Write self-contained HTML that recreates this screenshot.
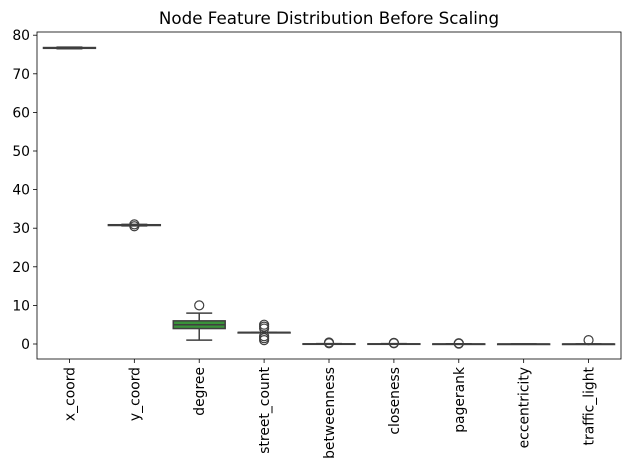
<!DOCTYPE html>
<html><head><meta charset="utf-8"><style>
body{margin:0;background:#fff;font-family:"Liberation Sans","DejaVu Sans",sans-serif}
</style></head><body>
<svg id="c" width="630" height="470" xmlns="http://www.w3.org/2000/svg" font-family="DejaVu Sans, Liberation Sans, sans-serif"></svg>
<script>
const categories=["x_coord","y_coord","degree","street_count","betweenness","closeness","pagerank","eccentricity","traffic_light"];
const colors=["#3274a1","#e1812c","#3a923a","#c03d3e","#9372b2","#845b53","#d684bd","#7f7f7f","#a9aa35"];
const q1=[76.6,30.7,4,3,0,0,0,0,0];
const med=[76.7,30.8,5,3,0,0,0,0,0];
const q3=[76.8,30.9,6,3,0.05,0.05,0.02,0,0];
const whiskLo=[76.5,30.6,1,3,0,0,0,0,0];
const whiskHi=[76.9,31.0,8,3,0.1,0.1,0.05,0,0];
const outliers=[[],[30.5,31.0],[10],[1,1.5,2,4,4.5,5],[0.2,0.4],[0.2,0.3],[0.1,0.2],[],[1]];
const yTicks=[0,10,20,30,40,50,60,70,80];
const svg=document.getElementById('c');const NS="http://www.w3.org/2000/svg";
const L=37,R=621,T=32,B=359;
const y=v=>344-v*3.86;
const xc=i=>L+(R-L)/categories.length*(i+0.5);
const bw=(R-L)/categories.length*0.8;
function mk(t,a,p){const e=document.createElementNS(NS,t);for(const k in a)e.setAttribute(k,a[k]);(p||svg).appendChild(e);return e;}
const title=mk('text',{x:329,y:24,'text-anchor':'middle','font-size':16.7,fill:'#000'});title.textContent="Node Feature Distribution Before Scaling";


yTicks.forEach(v=>{const g=mk('g',{});


mk('line',{x1:L-4,x2:L,y1:y(v),y2:y(v),stroke:'#000','stroke-width':0.8},g);
const t=mk('text',{x:L-7,y:y(v)+5,'text-anchor':'end','font-size':13.9},g);t.textContent=v;});
categories.forEach((c,i)=>{const g=mk('g',{});


const x=xc(i),s='#3f3f3f';
mk('line',{x1:x,x2:x,y1:y(whiskLo[i]),y2:y(q1[i]),stroke:s,'stroke-width':1.5},g);
mk('line',{x1:x,x2:x,y1:y(whiskHi[i]),y2:y(q3[i]),stroke:s,'stroke-width':1.5},g);
mk('line',{x1:x-bw/4,x2:x+bw/4,y1:y(whiskLo[i]),y2:y(whiskLo[i]),stroke:s,'stroke-width':1.5},g);
mk('line',{x1:x-bw/4,x2:x+bw/4,y1:y(whiskHi[i]),y2:y(whiskHi[i]),stroke:s,'stroke-width':1.5},g);
const h=Math.max(0.5,y(q1[i])-y(q3[i]));
mk('rect',{x:x-bw/2,y:y(q3[i]),width:bw,height:h,fill:colors[i],stroke:s,'stroke-width':1.5},g);
mk('line',{x1:x-bw/2,x2:x+bw/2,y1:y(med[i]),y2:y(med[i]),stroke:s,'stroke-width':1.5},g);
outliers[i].forEach(o=>{const cc=mk('circle',{cx:x,cy:y(o),r:4.5,fill:'none',stroke:s,'stroke-width':1.2},g);

});
mk('line',{x1:x,x2:x,y1:B,y2:B+4,stroke:'#000','stroke-width':0.8},g);
const t=mk('text',{x:0,y:0,'text-anchor':'end','font-size':13.9,transform:`translate(${x+5},${B+8}) rotate(-90)`},g);t.textContent=c;});
const fr=mk('rect',{x:L,y:T,width:R-L,height:B-T,fill:'none',stroke:'#000','stroke-width':0.8});


</script>
</body></html>
